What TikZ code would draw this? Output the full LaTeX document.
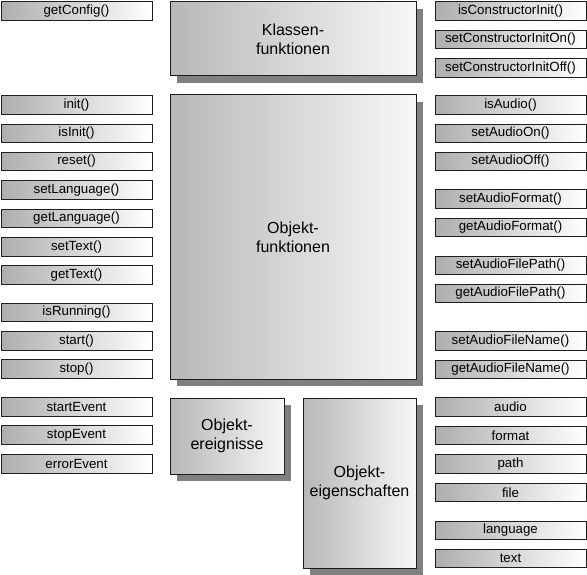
\documentclass[tikz,border=0pt]{standalone}
\usepackage{fontspec}
\setmainfont{Liberation Sans}
\usepackage{tikz}
\usetikzlibrary{shadows}
\definecolor{box_line}{RGB}{30, 30, 30}
\definecolor{shadow_gray}{RGB}{128, 128, 128}
\tikzstyle{fn}=[rectangle,draw=box_line,line width=0.9pt,left color=black!32,right color=white,
  inner sep=0pt,minimum width=151pt,minimum height=18.5pt,font=\fontsize{13.3}{15}\selectfont]
\tikzstyle{grp}=[rectangle,draw=box_line,line width=1pt,left color=black!28,right color=black!3,
  inner sep=0pt,align=center,font=\fontsize{16}{19}\selectfont,
  drop shadow={shadow xshift=7pt,shadow yshift=-7pt,fill=shadow_gray,opacity=1}]
\tikzstyle{none}=[]

\begin{document}
\begin{tikzpicture}[x=1pt,y=-1pt]
            \useasboundingbox (0, 0) rectangle (587, 575);
            \node [style=grp, minimum width=246pt, minimum height=74pt] (0) at (293, 39) {Klassen-\\funktionen};
            \node [style=grp, minimum width=246pt, minimum height=284pt] (1) at (293, 237) {Objekt-\\funktionen};
            \node [style=grp, minimum width=114pt, minimum height=76pt] (2) at (227, 436) {Objekt-\\ereignisse};
            \node [style=grp, minimum width=113pt, minimum height=170pt] (3) at (359.5, 483) {Objekt-\\eigenschaften};
            \node [style=fn] (10) at (76.5, 11) {getConfig()};
            \node [style=fn] (11) at (76.5, 105) {init()};
            \node [style=fn] (12) at (76.5, 133.5) {isInit()};
            \node [style=fn] (13) at (76.5, 161.5) {reset()};
            \node [style=fn] (14) at (76.5, 190) {setLanguage()};
            \node [style=fn] (15) at (76.5, 218.5) {getLanguage()};
            \node [style=fn] (16) at (76.5, 247) {setText()};
            \node [style=fn] (17) at (76.5, 275) {getText()};
            \node [style=fn] (18) at (76.5, 312.5) {isRunning()};
            \node [style=fn] (19) at (76.5, 341) {start()};
            \node [style=fn] (20) at (76.5, 369) {stop()};
            \node [style=fn] (21) at (76.5, 407) {startEvent};
            \node [style=fn] (22) at (76.5, 435) {stopEvent};
            \node [style=fn] (23) at (76.5, 464) {errorEvent};
            \node [style=fn] (30) at (510.5, 11) {isConstructorInit()};
            \node [style=fn] (31) at (510.5, 39.5) {setConstructorInitOn()};
            \node [style=fn] (32) at (510.5, 68) {setConstructorInitOff()};
            \node [style=fn] (33) at (510.5, 105) {isAudio()};
            \node [style=fn] (34) at (510.5, 133.5) {setAudioOn()};
            \node [style=fn] (35) at (510.5, 161.5) {setAudioOff()};
            \node [style=fn] (36) at (510.5, 199) {setAudioFormat()};
            \node [style=fn] (37) at (510.5, 227.5) {getAudioFormat()};
            \node [style=fn] (38) at (510.5, 265.5) {setAudioFilePath()};
            \node [style=fn] (39) at (510.5, 293.5) {getAudioFilePath()};
            \node [style=fn] (40) at (510.5, 341) {setAudioFileName()};
            \node [style=fn] (41) at (510.5, 369.5) {getAudioFileName()};
            \node [style=fn] (42) at (510.5, 407) {audio};
            \node [style=fn] (43) at (510.5, 435.5) {format};
            \node [style=fn] (44) at (510.5, 464) {path};
            \node [style=fn] (45) at (510.5, 492.5) {file};
            \node [style=fn] (46) at (510.5, 530.5) {language};
            \node [style=fn] (47) at (510.5, 558.5) {text};
    \end{tikzpicture}
\end{document}
